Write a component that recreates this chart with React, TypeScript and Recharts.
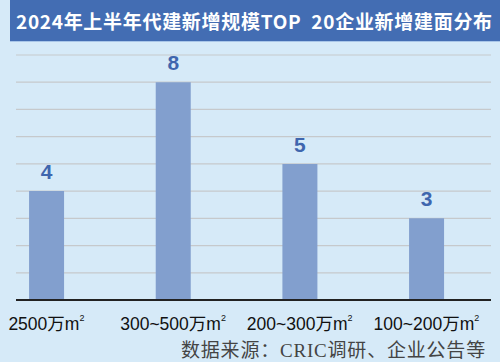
import React from 'react';
import { BarChart, Bar, XAxis, YAxis, CartesianGrid, LabelList } from 'recharts';

const categories = ['2500', '300~500', '200~300', '100~200'];
const counts = [4, 8, 5, 3];
const yTicks = [0, 1, 2, 3, 4, 5, 6, 7, 8, 9];

const data = categories.map((name, i) => ({ idx: i, name, value: counts[i] }));

const CategoryTick = (props: any) => {
  const { x, y, payload } = props;
  const name = categories[payload.value] ?? '';
  return (
    <text x={x} y={y + 22} textAnchor="middle" fill="#111" fontSize={17.5}
      fontFamily="'Liberation Sans', Arial, 'Noto Sans CJK SC', sans-serif">
      {name}
      <tspan fontFamily="'Noto Sans CJK SC', sans-serif">万</tspan>
      m
      <tspan fontSize={9} dy={-9}>2</tspan>
    </text>
  );
};

export default function App() {
  return (
    <div style={{ position: 'fixed', left: 0, top: 0, width: 500, height: 362, background: '#d6eaf8', overflow: 'hidden' }}>
      <div style={{
        position: 'absolute', left: 10, top: 0, width: 490, height: 42, background: '#436db3',
        color: '#fff', fontWeight: 700, fontSize: 19, lineHeight: '42px', paddingLeft: 6, boxSizing: 'border-box',
        fontFamily: "'Noto Sans CJK SC', sans-serif", letterSpacing: 0.7, whiteSpace: 'nowrap',
        borderBottom: '1px solid #a9c6e8',
      }}>
        2024年上半年代建新增规模TOP&nbsp;&nbsp;20企业新增建面分布
      </div>
      <BarChart width={500} height={362} data={data} margin={{ top: 55, right: 9, left: 16, bottom: 32 }}>
        <CartesianGrid horizontal vertical={false} stroke="#c6c9cc" strokeWidth={1.2} />
        <XAxis
          dataKey="idx"
          type="number"
          height={30}
          domain={[-0.24, 3.51]}
          ticks={[0, 1, 2, 3]}
          allowDataOverflow
          axisLine={{ stroke: '#222', strokeWidth: 2 }}
          tickLine={false}
          tick={<CategoryTick />}
          interval={0}
        />
        <YAxis hide domain={[0, 9]} ticks={yTicks} />
        <Bar dataKey="value" fill="#829fce" barSize={35} isAnimationActive={false}>
          <LabelList dataKey="value" position="top" offset={12} fill="#3f66ae" fontSize={21} fontWeight={700}
            fontFamily="'Liberation Sans', Arial, sans-serif" />
        </Bar>
      </BarChart>
      <div style={{
        position: 'absolute', left: 181, top: 335, fontSize: 19, color: '#444', whiteSpace: 'nowrap', letterSpacing: 0.8,
        fontFamily: "'Liberation Serif', 'Noto Sans CJK SC', serif",
      }}>
        数据来源：CRIC调研、企业公告等
      </div>
    </div>
  );
}
